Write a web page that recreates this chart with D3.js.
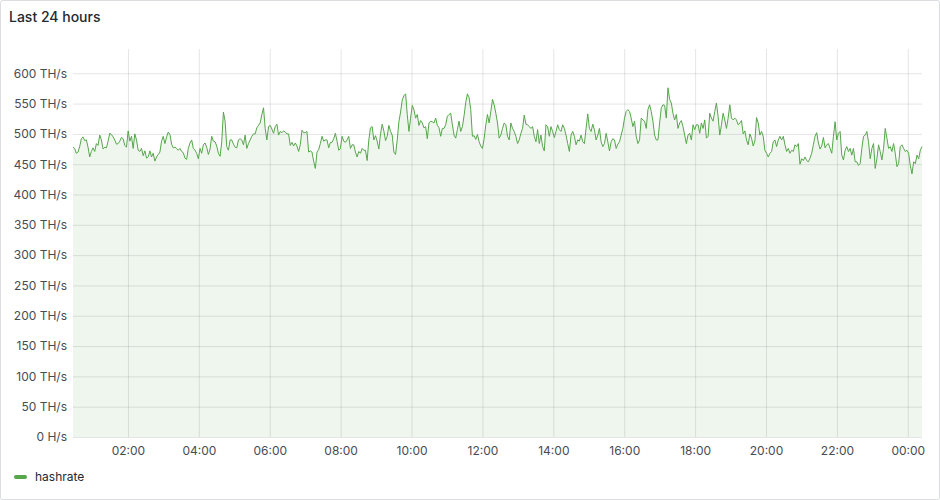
<!DOCTYPE html>
<html>
<head>
<meta charset="utf-8">
<script src="https://cdn.jsdelivr.net/npm/d3@7"></script>
<style>
  html, body { margin: 0; padding: 0; background: #fff; }
  #chart { width: 940px; height: 500px; }
  text { font-family: Inter, "Noto Sans", sans-serif; }
</style>
</head>
<body>
<div id="chart"></div>
<script>
// time window shown (last 24 hours, as drawn)
var startTime = "2024-01-01T00:27:00";
var endTime = "2024-01-02T00:24:00";

// y axis ticks
var yTicks = [0, 50, 100, 150, 200, 250, 300, 350, 400, 450, 500, 550, 600];

// hashrate in TH/s, evenly spaced over the window
var hashrate = [
  478,476,468,470,479,492,495,489,490,478,462,471,477,471,484,481,498,490,475,478,477,488,501,499,495,490,483,484,488,494,492,481,478,505,488,496,476,500,490,473,471,476,464,472,460,462,472,462,468,455,462,466,470,488,496,484,495,503,499,483,477,478,476,473,476,471,469,460,458,476,485,490,476,473,468,459,476,468,482,485,478,466,475,496,488,
  487,480,468,463,487,536,521,479,473,490,490,483,478,477,490,492,490,482,498,476,484,490,496,500,500,510,514,518,532,543,509,490,512,514,508,501,512,516,498,504,502,505,503,500,500,481,486,480,485,480,471,482,506,502,502,504,470,472,470,455,443,470,474,484,496,488,490,490,477,486,486,492,501,488,473,476,496,488,486,490,496,476,482,482,470,
  462,471,468,476,473,473,456,490,510,512,490,497,488,475,500,516,505,489,496,514,504,498,470,466,490,520,536,556,563,566,532,504,526,547,540,526,532,514,522,518,510,512,492,518,521,520,518,526,514,510,496,509,509,515,529,532,534,515,498,493,507,521,504,512,530,552,566,560,540,496,497,491,499,487,480,476,492,515,532,518,537,557,548,534,518,
  493,498,509,518,515,496,490,518,509,504,496,484,490,501,509,531,516,515,512,509,512,496,487,507,484,498,479,472,515,512,496,512,504,494,504,515,507,504,515,509,498,484,471,498,504,496,482,490,488,498,487,484,509,533,509,504,516,507,490,498,509,487,479,484,501,487,472,487,492,490,476,483,487,498,509,526,537,540,537,526,512,521,496,484,490,
  526,523,521,509,540,548,537,521,498,490,490,518,543,548,547,526,576,557,551,534,523,532,509,518,522,512,498,484,498,501,490,515,507,515,515,501,518,509,523,493,496,534,526,521,537,551,529,498,515,534,523,509,526,548,526,523,526,523,515,518,522,500,505,490,482,500,493,480,488,527,518,498,504,496,473,468,462,468,471,487,490,479,490,496,490,
  496,482,471,476,468,473,471,482,479,484,450,459,456,462,456,454,460,468,482,496,502,485,475,480,494,477,482,484,476,468,496,520,490,501,504,465,457,473,479,471,476,465,476,454,454,448,451,476,496,498,504,487,459,476,484,443,459,482,471,457,476,509,493,476,479,471,484,468,446,451,479,482,476,471,473,468,448,434,454,451,465,459,473,479
];

var width = 940, height = 500;
var margin = {top: 49, right: 18, bottom: 63, left: 73};

var svg = d3.select("#chart")
  .append("svg")
    .attr("width", width)
    .attr("height", height);

// panel frame
svg.append("rect")
  .attr("x", 0.5).attr("y", 0.5)
  .attr("width", width - 1).attr("height", height - 1)
  .attr("rx", 2)
  .attr("fill", "#fff")
  .attr("stroke", "#dcdde0");

svg.append("text")
  .attr("x", 9).attr("y", 22)
  .attr("font-size", "14px")
  .attr("font-weight", 500)
  .attr("fill", "#24292e")
  .text("Last 24 hours");

var parse = d3.timeParse("%Y-%m-%dT%H:%M:%S");
var t0 = parse(startTime), t1 = parse(endTime);
var step = (t1 - t0) / (hashrate.length - 1);
var data = hashrate.map(function(v, i) { return {t: new Date(+t0 + i * step), v: v}; });

var x = d3.scaleTime()
  .domain([t0, t1])
  .range([margin.left, width - margin.right]);

var y = d3.scaleLinear()
  .domain([0, 640])
  .range([height - margin.bottom, margin.top]);

var gridColor = "rgba(36,41,46,0.12)";
var labelColor = "#464c54";

// horizontal grid + y labels
var yAxis = svg.append("g")
  .attr("transform", "translate(" + margin.left + ",0)")
  .call(d3.axisLeft(y)
    .tickValues(yTicks)
    .tickSize(-(width - margin.left - margin.right))
    .tickPadding(6)
    .tickFormat(function(d) { return d === 0 ? "0 H/s" : d + " TH/s"; }));
yAxis.select(".domain").remove();
yAxis.selectAll("line").attr("stroke", gridColor);
yAxis.selectAll("text")
  .attr("font-size", "12px")
  .attr("fill", labelColor)
  .style("font-family", "Inter, sans-serif");

// vertical grid + x labels
var xAxis = svg.append("g")
  .attr("transform", "translate(0," + (height - margin.bottom) + ")")
  .call(d3.axisBottom(x)
    .ticks(d3.timeHour.every(2))
    .tickSize(-(height - margin.top - margin.bottom))
    .tickPadding(9)
    .tickFormat(d3.timeFormat("%H:%M")));
xAxis.select(".domain").remove();
xAxis.selectAll("line").attr("stroke", gridColor);
xAxis.selectAll("text")
  .attr("font-size", "12px")
  .attr("fill", labelColor)
  .style("font-family", "Inter, sans-serif");

var green = "#56a64b";

var area = d3.area()
  .x(function(d) { return x(d.t); })
  .y0(y(0))
  .y1(function(d) { return y(d.v); });

var line = d3.line()
  .x(function(d) { return x(d.t); })
  .y(function(d) { return y(d.v); });

svg.append("path")
  .datum(data)
  .attr("fill", green)
  .attr("fill-opacity", 0.1)
  .attr("d", area);

svg.append("path")
  .datum(data)
  .attr("fill", "none")
  .attr("stroke", green)
  .attr("stroke-width", 1)
  .attr("d", line);

// legend
var legend = svg.append("g").attr("transform", "translate(14,477)");
legend.append("line")
  .attr("x1", 2).attr("x2", 11)
  .attr("stroke", green)
  .attr("stroke-width", 4)
  .attr("stroke-linecap", "round");
legend.append("text")
  .attr("x", 21).attr("dy", "0.35em")
  .attr("font-size", "12px")
  .attr("fill", "#24292e")
  .text("hashrate");
</script>
</body>
</html>
